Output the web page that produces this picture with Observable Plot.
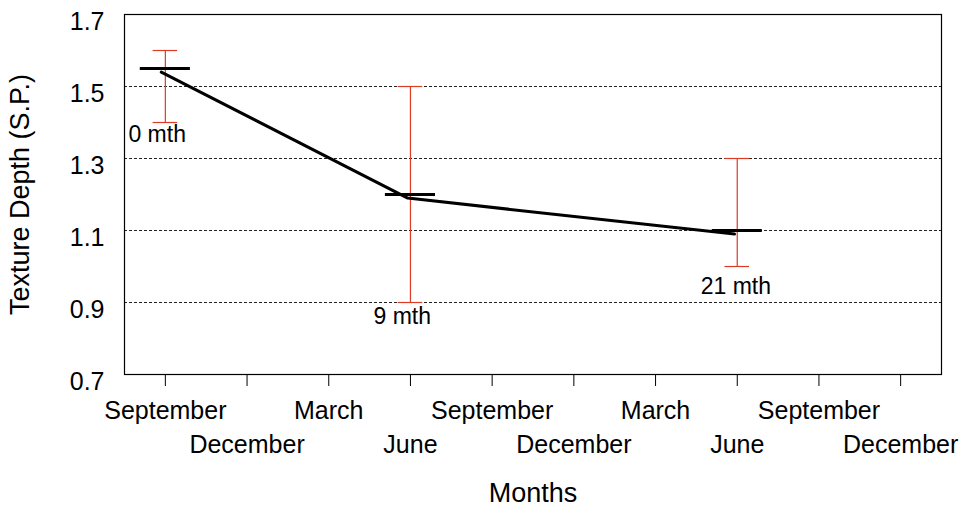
<!DOCTYPE html>
<html>
<head>
<meta charset="utf-8">
<script src="https://cdn.jsdelivr.net/npm/d3@7"></script>
<script src="https://cdn.jsdelivr.net/npm/@observablehq/plot@0.6"></script>
<style>
  body { margin: 0; background: #fff; }
  svg { font-family: "Liberation Sans", Arial, sans-serif; }
</style>
</head>
<body>
<div id="chart"></div>
<script>
// ---- data ----
const tickMonths = [0, 3, 6, 9, 12, 15, 18, 21, 24, 27];
const tickLabels = ["September", "December", "March", "June", "September", "December", "March", "June", "September", "December"];
const yTicks = [0.7, 0.9, 1.1, 1.3, 1.5, 1.7];
const gridValues = [0.9, 1.1, 1.3, 1.5];

const pointNames = ["0 mth", "9 mth", "21 mth"];
const pointMonths = [0, 9, 21];
const meanValues = [1.55, 1.20, 1.10];
const lowValues = [1.40, 0.90, 1.00];
const highValues = [1.60, 1.50, 1.30];

const lineMonths = [-0.15, 8.9, 20.9];
const lineValues = [1.54, 1.19, 1.09];

const labelMonths = [-0.3, 8.7, 20.95];
const labelValues = [1.365, 0.86, 0.945];

// ---- build tables ----
const points = pointNames.map((n, i) => ({
  name: n, month: pointMonths[i], mean: meanValues[i], low: lowValues[i], high: highValues[i],
  lx: labelMonths[i], ly: labelValues[i]
}));
const line = lineMonths.map((m, i) => ({month: m, value: lineValues[i]}));

const capHalf = 0.45;   // half width of error caps (months)
const barHalf = 0.92;   // half width of mean bars (months)
const red = "#dc3b24";
const fsX = 25, fsY = 25, fsTitle = 27, fsPt = 23;

const labelOf = m => tickLabels[tickMonths.indexOf(m)];

const chart = Plot.plot({
  width: 965,
  height: 507,
  marginLeft: 124,
  marginRight: 24,
  marginTop: 14,
  marginBottom: 133,
  style: {fontSize: fsX + "px", fontFamily: "'Liberation Sans', Arial, sans-serif", color: "#000", background: "#fff"},
  x: {domain: [-1.5, 28.5]},
  y: {domain: [0.7, 1.7]},
  marks: [
    Plot.ruleY(gridValues, {stroke: "#222", strokeWidth: 1, strokeDasharray: "3,2"}),
    Plot.frame({stroke: "#000", strokeWidth: 1.2}),
    // y axis labels
    Plot.axisY({ticks: yTicks, tickSize: 0, tickPadding: 20, tickFormat: d => d.toFixed(1), fontSize: fsY, dy: 7, label: null}),
    // x axis: ticks + first row of labels
    Plot.axisX({ticks: tickMonths, tickSize: 12, tickPadding: 15, tickStroke: "#333",
      tickFormat: m => (tickMonths.indexOf(m) % 2 === 0 ? labelOf(m) : ""), fontSize: fsX, label: null}),
    // second row of labels
    Plot.axisX({ticks: tickMonths.filter((m, i) => i % 2 === 1), tickSize: 0, tickPadding: 61,
      tickFormat: labelOf, fontSize: fsX, label: null}),
    // axis titles
    Plot.text(["Months"], {frameAnchor: "bottom", dy: 119, fontSize: fsTitle, lineAnchor: "middle"}),
    Plot.text(["Texture Depth (S.P.)"], {frameAnchor: "left", textAnchor: "middle", dx: -104, rotate: -90, fontSize: fsTitle, lineAnchor: "middle"}),
    // error bars
    Plot.ruleX(points, {x: "month", y1: "low", y2: "high", stroke: red, strokeWidth: 1.2}),
    Plot.ruleY(points, {y: "low", x1: d => d.month - capHalf, x2: d => d.month + capHalf, stroke: red, strokeWidth: 1.2}),
    Plot.ruleY(points, {y: "high", x1: d => d.month - capHalf, x2: d => d.month + capHalf, stroke: red, strokeWidth: 1.2}),
    // mean bars
    Plot.ruleY(points, {y: "mean", x1: d => d.month - barHalf, x2: d => d.month + barHalf, stroke: "#000", strokeWidth: 3}),
    // connecting line
    Plot.line(line, {x: "month", y: "value", stroke: "#000", strokeWidth: 3}),
    // point labels
    Plot.text(points, {x: "lx", y: "ly", text: "name", fontSize: fsPt, fill: "#000"})
  ]
});
document.getElementById("chart").appendChild(chart);
</script>
</body>
</html>
